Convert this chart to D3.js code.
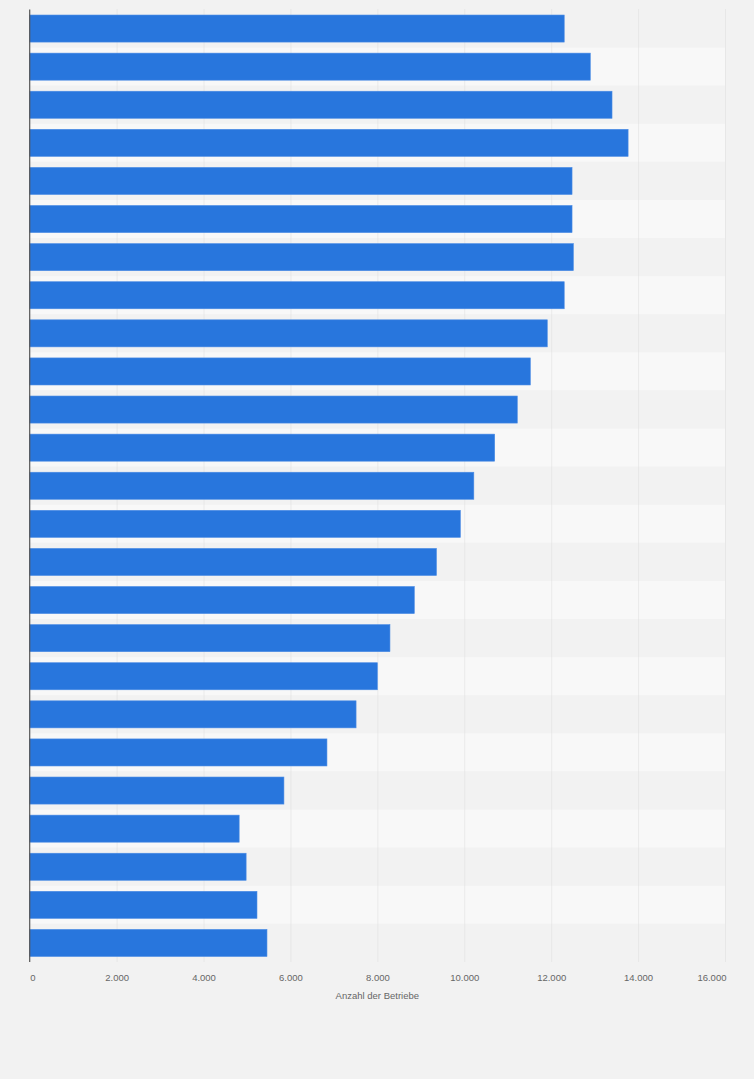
<!DOCTYPE html>
<html>
<head>
<meta charset="utf-8">
<script src="https://cdn.jsdelivr.net/npm/d3@7"></script>
<style>
  html, body { margin: 0; padding: 0; background: #f2f2f2; }
  svg { display: block; }
</style>
</head>
<body>
<div id="chart"></div>
<script>
// Rows have no visible labels in the original, so they are just numbered
const categories = d3.range(1, 26).map(String);
const values = [12300, 12900, 13400, 13770, 12480, 12480, 12510, 12300, 11910, 11520,
                11220, 10700, 10220, 9910, 9360, 8850, 8290, 8000, 7510, 6840,
                5850, 4820, 4980, 5230, 5460];
const tickValues = [0, 2000, 4000, 6000, 8000, 10000, 12000, 14000, 16000];
const axisTitle = "Anzahl der Betriebe";

const width = 754;
const height = 1079;
const margin = { top: 9.5, right: 29, bottom: 117, left: 29.7 };

const svg = d3.select("#chart")
    .append("svg")
    .attr("width", width)
    .attr("height", height);

svg.append("rect")
    .attr("width", width)
    .attr("height", height)
    .attr("fill", "#f2f2f2");

const x = d3.scaleLinear()
    .domain([0, 16000])
    .range([margin.left, width - margin.right]);

const y = d3.scaleBand()
    .domain(categories)
    .range([margin.top, height - margin.bottom])
    .paddingInner(0.29)
    .paddingOuter(0.145);

// alternating row bands
const step = y.step();
svg.append("g")
    .selectAll("rect")
    .data(categories)
    .join("rect")
    .attr("x", x(0))
    .attr("y", d => y(d) - step * y.paddingInner() / 2)
    .attr("width", x(16000) - x(0))
    .attr("height", step)
    .attr("fill", (d, i) => i % 2 === 0 ? "#f2f2f2" : "#f8f8f8");

// gridlines
svg.append("g")
    .selectAll("line")
    .data(tickValues.slice(1))
    .join("line")
    .attr("x1", d => x(d) + 0.5)
    .attr("x2", d => x(d) + 0.5)
    .attr("y1", margin.top)
    .attr("y2", height - margin.bottom)
    .attr("stroke", "#dcdcdc")
    .attr("stroke-width", 1)
    .attr("stroke-dasharray", "1,1");

// bars
svg.append("g")
    .selectAll("rect")
    .data(values)
    .join("rect")
    .attr("x", x(0))
    .attr("y", (d, i) => y(categories[i]))
    .attr("width", d => x(d) - x(0))
    .attr("height", y.bandwidth())
    .attr("fill", "#2876dd")
    .attr("stroke", "#4a8be4")
    .attr("stroke-width", 0.6);

// left axis line
svg.append("line")
    .attr("x1", x(0))
    .attr("x2", x(0))
    .attr("y1", margin.top)
    .attr("y2", height - margin.bottom)
    .attr("stroke", "#555")
    .attr("stroke-width", 1.2);

// x axis tick labels
const xAxis = d3.axisBottom(x)
    .tickValues(tickValues)
    .tickSize(0)
    .tickPadding(0)
    .tickFormat(d => d3.format(",")(d).replace(/,/g, "."));

const axisG = svg.append("g")
    .attr("transform", `translate(0,${height - margin.bottom + 15.5})`)
    .call(xAxis);

axisG.select(".domain").remove();
axisG.selectAll("text")
    .attr("fill", "#666")
    .attr("font-family", "Liberation Sans, Arial, sans-serif")
    .attr("font-size", "9.5px")
    .attr("dy", "0.32em")
    .attr("y", 0)
    .attr("text-anchor", (d, i) => i === 0 ? "start" : (i === tickValues.length - 1 ? "end" : "middle"))
    .attr("dx", (d, i) => i === 0 ? "0" : (i === tickValues.length - 1 ? "0.1em" : "0"));

svg.append("text")
    .attr("x", (x(0) + x(16000)) / 2)
    .attr("y", height - margin.bottom + 37)
    .attr("text-anchor", "middle")
    .attr("fill", "#666")
    .attr("font-family", "Liberation Sans, Arial, sans-serif")
    .attr("font-size", "9.5px")
    .text(axisTitle);
</script>
</body>
</html>
